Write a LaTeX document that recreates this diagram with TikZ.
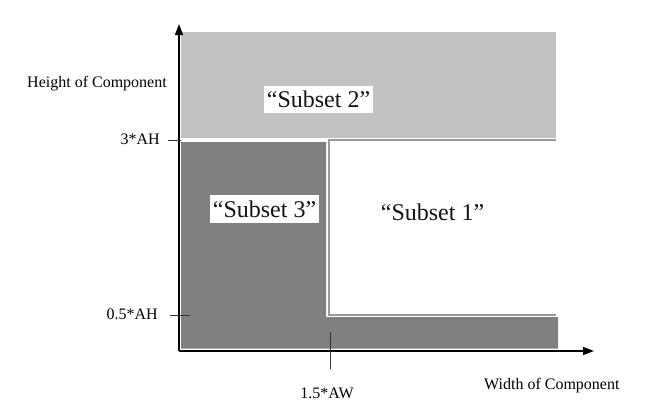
\documentclass[tikz,border=0pt]{standalone}
\usepackage{fontspec}
\setmainfont{Liberation Serif}
\usetikzlibrary{arrows.meta}
\begin{document}
\begin{tikzpicture}[x=1pt,y=-1pt,
  lbl/.style={inner sep=0pt,text=black,font=\fontsize{16}{19}\selectfont},
  subset/.style={inner xsep=3pt,inner ysep=5.5pt,text depth=0pt,text=black!92,font=\fontsize{24}{28}\selectfont},
  axis/.style={line width=1.4pt,-{Triangle[length=11pt,width=8pt]}},
  tick/.style={line width=0.9pt,black!80},
  border/.style={line width=1.2pt,black!40}]
\useasboundingbox (0,0) rectangle (649,416);
% fills
\fill[fill=black!24] (181,32) rectangle (556,137.5);
\fill[fill=black!50] (181,142) -- (326,142) -- (326,317) -- (558,317) -- (558,348.5) -- (181,348.5) -- cycle;
% border of subset 1
\draw[border] (556,140) -- (329,140) -- (329,315) -- (556,315);
% axes
\coordinate (o) at (179,351);
\coordinate (ytop) at (179,24);
\coordinate (xend) at (594,351);
\draw[axis] (o) -- (ytop);
\draw[axis] (o) -- (xend);
% ticks
\coordinate (t3a) at (168,140); \coordinate (t3b) at (181,140);
\coordinate (t05a) at (170,315); \coordinate (t05b) at (190,315);
\coordinate (t15a) at (330,332); \coordinate (t15b) at (330,369);
\draw[tick] (t3a) -- (t3b);
\draw[tick] (t05a) -- (t05b);
\draw[tick] (t15a) -- (t15b);
% labels
\node[lbl,anchor=base west] (hc) at (27,87) {Height of Component};
\node[lbl,anchor=base east] (l3ah) at (160,144) {3*AH};
\node[lbl,anchor=base east] (l05ah) at (158,319) {0.5*AH};
\node[lbl,anchor=base] (l15aw) at (327,398) {1.5*AW};
\node[lbl,anchor=base west] (wc) at (484,389) {Width of Component};
% subset labels
\node[subset,fill=white] (s2) at (318.5,99.5) {“Subset 2”};
\node[subset,fill=white] (s3) at (264.5,209) {“Subset 3”};
\node[subset] (s1) at (432.5,212) {“Subset 1”};
\end{tikzpicture}
\end{document}
